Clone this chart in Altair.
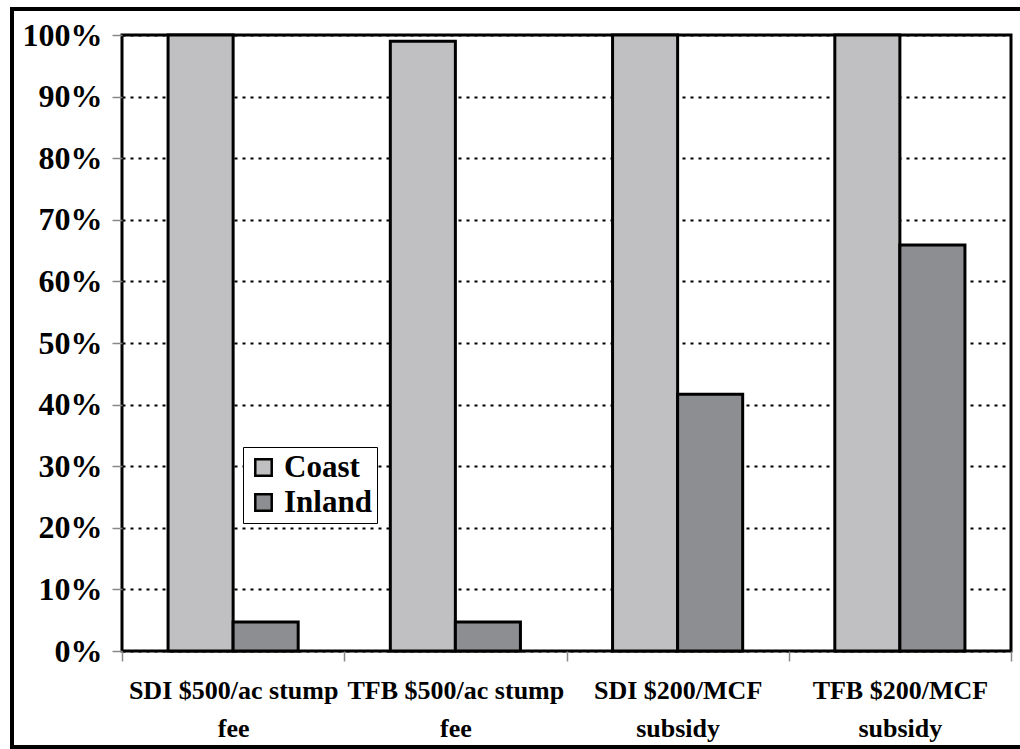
import altair as alt
import pandas as pd

categories = ["SDI $500/ac stump fee", "TFB $500/ac stump fee",
              "SDI $200/MCF subsidy", "TFB $200/MCF subsidy"]
regions = ["Coast", "Inland"]
coast = [1.0, 0.99, 1.0, 1.0]
inland = [0.047, 0.047, 0.417, 0.659]
y_ticks = [0, 0.1, 0.2, 0.3, 0.4, 0.5, 0.6, 0.7, 0.8, 0.9, 1.0]

rows = []
for i, c in enumerate(categories):
    rows.append({"Scenario": c, "Region": "Coast", "Share": coast[i]})
    rows.append({"Scenario": c, "Region": "Inland", "Share": inland[i]})
df = pd.DataFrame(rows)

FONT = "Liberation Serif"

bars = alt.Chart(df).mark_bar(stroke="black", strokeWidth=3).encode(
    x=alt.X("Scenario:N", sort=categories, title=None,
            scale=alt.Scale(paddingInner=0, paddingOuter=0),
            axis=alt.Axis(labelAngle=0, tickBand="extent", tickSize=10,
                          tickColor="#888888", tickWidth=1.5, domain=False,
                          labelFont=FONT, labelFontWeight="bold", labelFontSize=26,
                          labelColor="black", labelPadding=16, labelLineHeight=38,
                          labelBaseline="top", labelLimit=0,
                          labelExpr="[slice(datum.label, 0, lastindexof(datum.label, ' ')), slice(datum.label, lastindexof(datum.label, ' ') + 1)]")),
    xOffset=alt.XOffset("Region:N", sort=regions,
                        scale=alt.Scale(paddingInner=0, paddingOuter=0.708)),
    y=alt.Y("Share:Q", title=None,
            scale=alt.Scale(domain=[0, 1], nice=False),
            axis=alt.Axis(values=y_ticks, format=".0%", tickSize=10,
                          tickColor="#888888", tickWidth=1.5, domain=False,
                          grid=True, gridColor="black", gridDash=[3, 5], gridWidth=2,
                          labelFont=FONT, labelFontWeight="bold", labelFontSize=32,
                          labelColor="black", labelPadding=10)),
    color=alt.Color("Region:N", sort=regions,
                    scale=alt.Scale(domain=regions, range=["#c0c0c2", "#8d8e91"]),
                    legend=alt.Legend(title=None, orient="none", legendX=121, legendY=412,
                                      symbolType="square", symbolSize=270,
                                      symbolStrokeColor="black", symbolStrokeWidth=2.5,
                                      labelFont=FONT, labelFontWeight="bold",
                                      labelFontSize=31, labelColor="black",
                                      labelOffset=5,
                                      rowPadding=3, padding=5,
                                      strokeColor="black", fillColor="white")),
)

frame = alt.Chart(pd.DataFrame({"k": [0]})).mark_rect(
    fillOpacity=0, stroke="black", strokeWidth=4
).encode(x=alt.value(-110), x2=alt.value(905), y=alt.value(-26), y2=alt.value(712))

chart = alt.layer(bars, frame).properties(
    width=889, height=616,
    padding={"left": 122, "top": 35, "right": 9, "bottom": 98},
    autosize=alt.AutoSizeParams(type="none"),
    background="white",
).configure_view(stroke="black", strokeWidth=3)

chart.save("out.html", embed_options={"renderer": "svg", "actions": False})
